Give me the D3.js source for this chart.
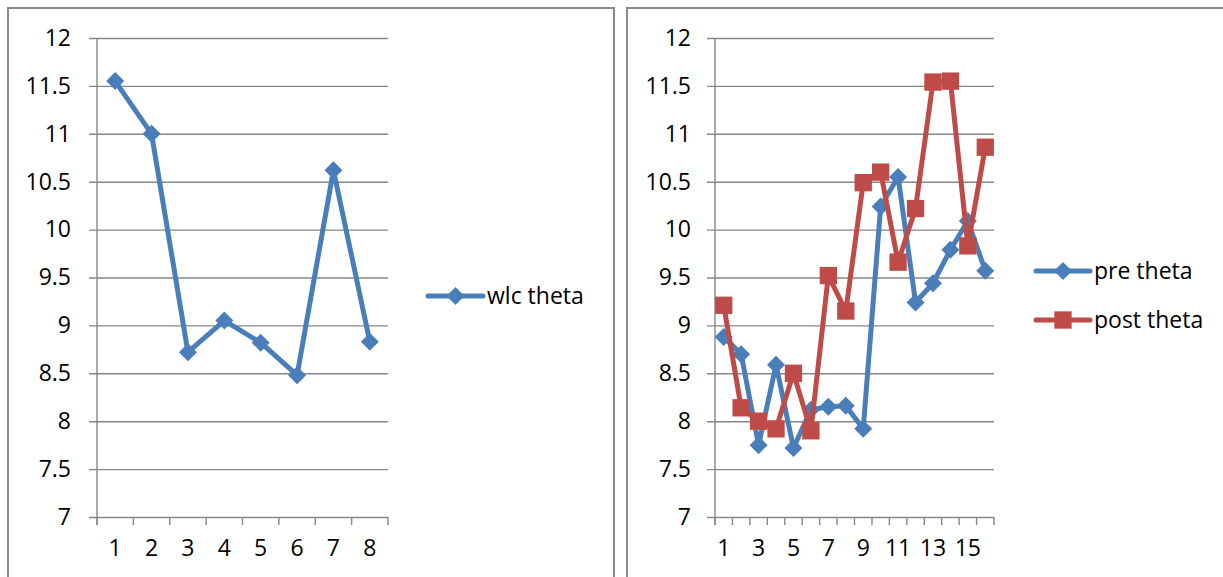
<!DOCTYPE html>
<html>
<head>
<meta charset="utf-8">
<script src="https://cdn.jsdelivr.net/npm/d3@7"></script>
<style>
  html, body { margin: 0; padding: 0; background: #fff; }
  svg { display: block; }
  text { font-family: "Open Sans", "Liberation Sans", sans-serif; font-size: 23px; fill: #000; }
</style>
</head>
<body>
<svg id="chart" width="1223" height="577"></svg>
<script>
// ---- data ----
const yTicks = [7, 7.5, 8, 8.5, 9, 9.5, 10, 10.5, 11, 11.5, 12];

const wlcCategories = [1, 2, 3, 4, 5, 6, 7, 8];
const wlcTheta = [11.55, 11.0, 8.72, 9.05, 8.82, 8.48, 10.62, 8.83];

const prePostCategories = [1, 2, 3, 4, 5, 6, 7, 8, 9, 10, 11, 12, 13, 14, 15, 16];
const prePostTickLabels = [1, 3, 5, 7, 9, 11, 13, 15];
const preTheta = [8.88, 8.70, 7.75, 8.59, 7.72, 8.12, 8.15, 8.16, 7.92, 10.24, 10.55, 9.24, 9.44, 9.79, 10.09, 9.57];
const postTheta = [9.21, 8.14, 8.00, 7.92, 8.50, 7.90, 9.52, 9.15, 10.49, 10.60, 9.66, 10.22, 11.54, 11.55, 9.83, 10.86];

const BLUE = "#4A7EBB";
const RED = "#BE4B48";
const GRID = "#878787";
const FONT_SIZE = 23;

const svg = d3.select("#chart");

// chart frames
svg.append("rect").attr("x", 8).attr("y", 8).attr("width", 606).attr("height", 600)
  .attr("fill", "none").attr("stroke", "#8a8a8a").attr("stroke-width", 2);
svg.append("rect").attr("x", 627).attr("y", 8).attr("width", 620).attr("height", 600)
  .attr("fill", "none").attr("stroke", "#8a8a8a").attr("stroke-width", 2);

const diamond = d3.symbol().type(d3.symbolSquare).size(162)();
const square = d3.symbol().type(d3.symbolSquare).size(300)();

function drawMarker(g, kind, color, x, y) {
  if (kind === "diamond") {
    g.append("path").attr("d", diamond)
      .attr("transform", `translate(${x},${y}) rotate(45)`)
      .attr("fill", color);
  } else {
    g.append("path").attr("d", square)
      .attr("transform", `translate(${x},${y})`)
      .attr("fill", color);
  }
}

function drawPanel(opts) {
  const { left, top, width, height, categories, tickLabels, series, labelPad } = opts;
  const g = svg.append("g").attr("transform", `translate(${left},${top})`);

  const y = d3.scaleLinear().domain([7, 12]).range([height, 0]);
  const x = d3.scaleBand().domain(categories).range([0, width]).padding(0);
  const cx = c => x(c) + x.bandwidth() / 2;

  // horizontal gridlines (extend 8px left of the axis as tick marks)
  const grid = g.append("g").attr("transform", "translate(-8,0)")
    .call(d3.axisRight(y).tickValues(yTicks).tickSize(width + 8).tickFormat(""));
  grid.select(".domain").remove();
  grid.selectAll(".tick line").attr("stroke", GRID).attr("stroke-width", 1.4);

  // y labels
  const ya = g.append("g")
    .call(d3.axisLeft(y).tickValues(yTicks).tickSize(0).tickPadding(labelPad)
      .tickFormat(d => String(d)));
  ya.select(".domain").remove();
  ya.selectAll("text").attr("font-size", FONT_SIZE).attr("font-family", null).attr("fill", "#000");

  // vertical axis line
  g.append("line").attr("x1", 0).attr("x2", 0).attr("y1", y(12)).attr("y2", y(7) + 8)
    .attr("stroke", GRID).attr("stroke-width", 1.4);

  // category boundary ticks
  const bounds = categories.map(c => x(c)).concat([width]);
  g.selectAll("line.xtick").data(bounds).enter().append("line")
    .attr("class", "xtick")
    .attr("x1", d => d).attr("x2", d => d)
    .attr("y1", height).attr("y2", height + 8)
    .attr("stroke", GRID).attr("stroke-width", 1.4);

  // x labels
  const xa = g.append("g").attr("transform", `translate(0,${height})`)
    .call(d3.axisBottom(x).tickValues(tickLabels).tickSize(0).tickPadding(23));
  xa.select(".domain").remove();
  xa.selectAll("text").attr("font-size", FONT_SIZE).attr("font-family", null).attr("fill", "#000");

  // series
  series.forEach(s => {
    const line = d3.line().x((d, i) => cx(categories[i])).y(d => y(d));
    g.append("path").datum(s.values).attr("d", line)
      .attr("fill", "none").attr("stroke", s.color).attr("stroke-width", 5)
      .attr("stroke-linejoin", "round").attr("stroke-linecap", "round");
    s.values.forEach((v, i) => drawMarker(g, s.marker, s.color, cx(categories[i]), y(v)));
  });
  return g;
}

function drawLegendItem(x1, x2, yPos, s) {
  const g = svg.append("g");
  g.append("line").attr("x1", x1).attr("x2", x2).attr("y1", yPos).attr("y2", yPos)
    .attr("stroke", s.color).attr("stroke-width", 5).attr("stroke-linecap", "round");
  drawMarker(g, s.marker, s.color, (x1 + x2) / 2, yPos);
  g.append("text").attr("x", x2 + 4).attr("y", yPos).attr("dy", "0.35em").text(s.name);
}

const wlcSeries = [{ name: "wlc theta", values: wlcTheta, color: BLUE, marker: "diamond" }];
const prePostSeries = [
  { name: "pre theta", values: preTheta, color: BLUE, marker: "diamond" },
  { name: "post theta", values: postTheta, color: RED, marker: "square" }
];

drawPanel({
  left: 97, top: 38, width: 291, height: 479,
  categories: wlcCategories, tickLabels: wlcCategories,
  series: wlcSeries, labelPad: 26
});

drawPanel({
  left: 715, top: 38, width: 279, height: 479,
  categories: prePostCategories, tickLabels: prePostTickLabels,
  series: prePostSeries, labelPad: 24
});

drawLegendItem(428, 483, 296, wlcSeries[0]);
drawLegendItem(1036, 1090, 271, prePostSeries[0]);
drawLegendItem(1036, 1090, 320, prePostSeries[1]);
</script>
</body>
</html>
